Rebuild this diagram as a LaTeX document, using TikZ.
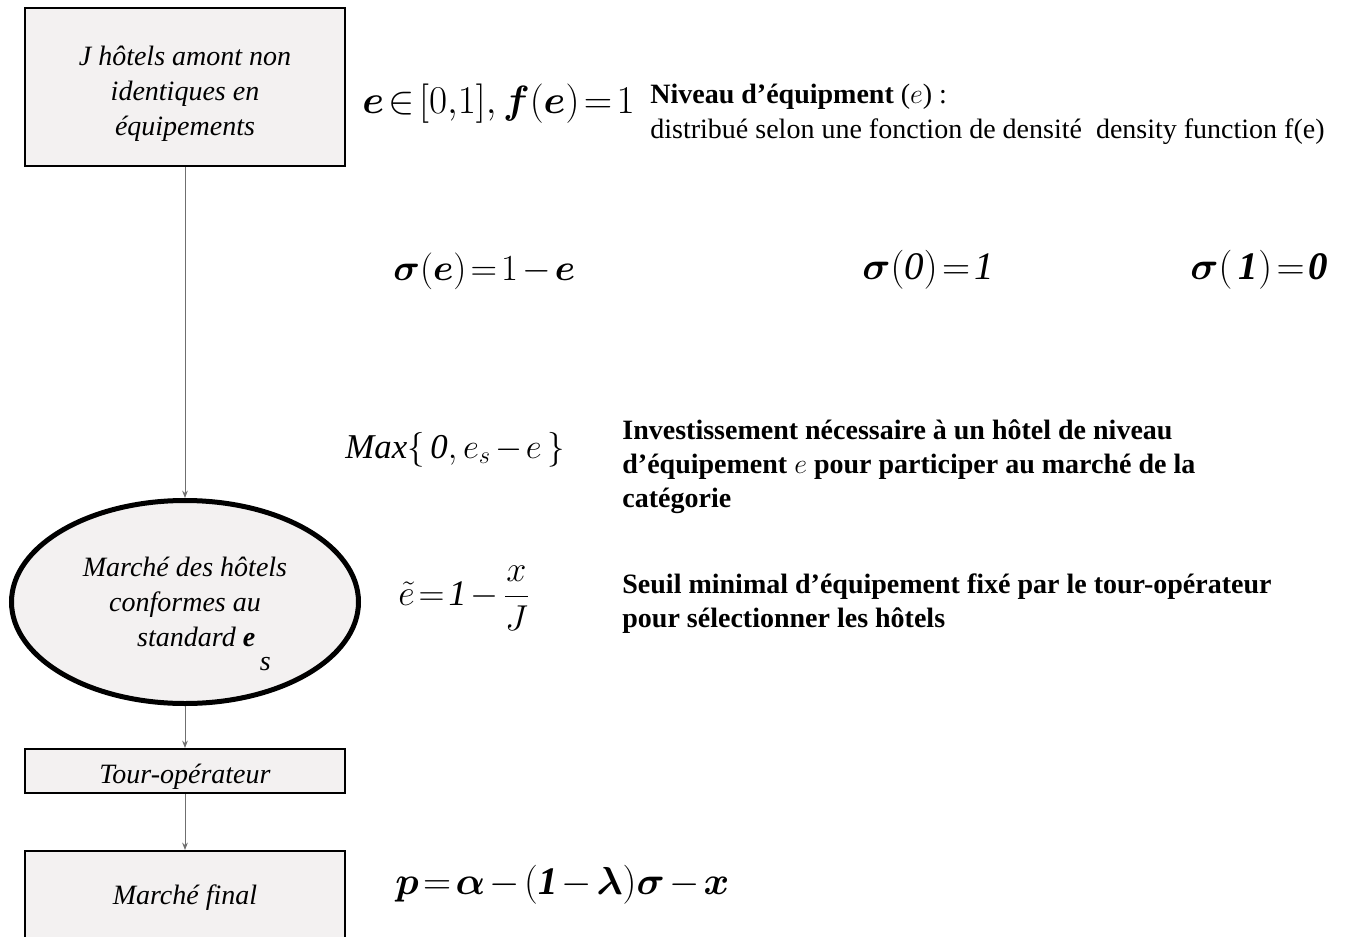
\RequirePackage{fix-cm}
\documentclass[tikz,border=0pt]{standalone}
\usepackage{amsmath,amssymb,bm}
\usepackage{fontspec}
\setmainfont{Liberation Serif}
\usepackage{xcolor}
\definecolor{boxfill}{HTML}{F3F1F1}
\definecolor{wire}{HTML}{6F6F6F}
\usetikzlibrary{arrows.meta,positioning,shapes.geometric}
\newcommand{\tightmath}{\thickmuskip=2mu\medmuskip=2mu}
\tikzset{
  >={Stealth[length=1.3mm,width=1mm]},
  box/.style={draw=black,line width=1pt,fill=boxfill,inner sep=2pt,minimum width=160pt,align=center,font=\fontsize{14}{17.5}\selectfont\itshape},
  ebox/.style={box,ellipse,line width=2.5pt,minimum width=173.5pt,minimum height=101.5pt},
  lab/.style={anchor=west,inner sep=0pt,align=left,font=\fontsize{14}{17}\selectfont},
  blab/.style={lab,font=\fontsize{14}{17}\selectfont\bfseries},
  eq/.style={anchor=west,inner sep=0pt,font=\fontsize{19.5}{24}\selectfont\tightmath},
  arr/.style={->,draw=wire,line width=0.5pt},
}
\begin{document}
\begin{tikzpicture}[x=0.5pt,y=-0.5pt]
\useasboundingbox (0,0) rectangle (1353,936);
% chaine des marches
\node[box,minimum height=79pt] (amont) at (185,87.5) {\rule{0pt}{16pt}J hôtels amont non\\identiques en\\équipements};
\node[ebox] (marche) at (185,602) {Marché des hôtels\\conformes au\\\hspace*{19pt}standard \textbf{e}\smash{\raisebox{-12pt}{\,s}}};
\node[box,minimum height=22pt,inner ysep=0pt] (tour) at (185,771) {\rule{0pt}{15pt}Tour-opérateur};
\node[box,minimum height=47pt] (final) at (185,898) {Marché final};
\draw[arr] (amont) -- (marche);
\draw[arr] (marche) -- (tour);
\draw[arr] (tour) -- (final);

% formules et commentaires
\node[eq,font=\fontsize{19.7}{24}\selectfont\tightmath] (dens) at (362,104) {$\bm{e}\in[0{,}1],\bm{f}(\bm{e})=1$};
\node[blab] (niveau) at (650,97) {Niveau d’équipment {\mdseries($e$) :}};
\node[lab] (distrib) at (650,132) {distribué selon une fonction de densité\ \ density function f(e)};
\node[eq,font=\fontsize{18.4}{24}\selectfont\tightmath] (sigma) at (393,271) {$\bm{\sigma}(\bm{e})=1-\bm{e}$};
\node[eq] (sigzero) at (862,270) {$\bm{\sigma}(\mathit{0})=\mathit{1}$};
\node[eq] (sigone) at (1190,270) {$\bm{\sigma}(\,\bm{\mathit{1}})=\bm{\mathit{0}}$};
\node[eq,font=\fontsize{17.4}{20}\selectfont\tightmath] (inv) at (345,450) {$\mathit{Max}\{\,\mathit{0},e_s-e\,\}$};
\node[blab] (invtxt) at (622,467) {Investissement nécessaire à un hôtel de niveau\\d’équipement {\mdseries$e$} pour participer au marché de la\\catégorie};
\node[eq,font=\fontsize{18}{20}\selectfont\tightmath] (seuil) at (398,598) {$\tilde{e}=\mathit{1}-\dfrac{x}{J}$};
\node[blab] (seuiltxt) at (622,604) {Seuil minimal d’équipement fixé par le tour-opérateur\\pour sélectionner les hôtels};
\node[eq] (prix) at (395,885) {$\bm{p}=\bm{\alpha}-(\bm{\mathit{1}}-\bm{\lambda})\bm{\sigma}-\bm{x}$};
\end{tikzpicture}
\end{document}
